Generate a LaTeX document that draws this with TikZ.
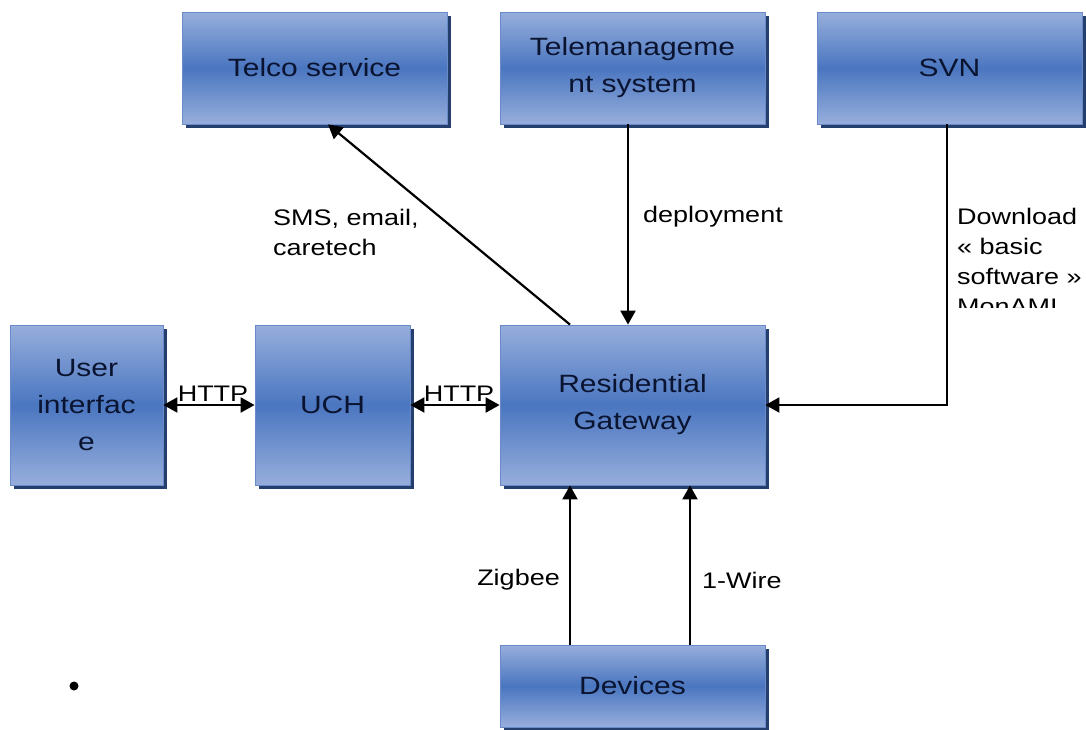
\documentclass[tikz,border=0pt]{standalone}
\usepackage{fontspec}
\setmainfont[FakeStretch=1.2]{Liberation Sans}
\usetikzlibrary{arrows.meta,shadows}

\definecolor{boxlight}{HTML}{97AEDC}
\definecolor{boxmid}{HTML}{4A76C0}
\definecolor{boxedge}{HTML}{6A8BC9}
\definecolor{boxshade}{HTML}{243F6E}
\definecolor{ink}{HTML}{0A1430}

\begin{document}
\begin{tikzpicture}[x=1pt,y=-1pt,
  block/.style={draw=boxedge, line width=0.8pt,
    top color=boxlight, bottom color=boxlight, middle color=boxmid,
    general shadow={fill=boxshade, shadow xshift=3.5pt, shadow yshift=-4pt},
    inner sep=0pt, align=center, text=ink,
    font=\fontsize{25}{37}\selectfont},
  lbl/.style={inner sep=0pt, text=black, align=left,
    font=\fontsize{22.5}{30}\selectfont},
  arr/.style={line width=2.2pt, -{Triangle[length=14pt,width=15pt]}},
  darr/.style={line width=2.2pt,
    {Triangle[length=14pt,width=15pt]}-{Triangle[length=14pt,width=15pt]}},
]
% page
\fill[white] (0,0) rectangle (1086,729);
\useasboundingbox (0,0) rectangle (1086,729);

% top row
\node[block, minimum width=265pt, minimum height=112pt] (telco) at (314.5,68) {Telco service};
\node[block, minimum width=265pt, minimum height=112pt] (tms) at (632.5,68) {Telemanageme\\nt system};
\node[block, minimum width=265pt, minimum height=112pt] (svn) at (949.5,68) {SVN};

% middle row
\node[block, minimum width=153pt, minimum height=160pt] (ui) at (86.5,405) {User\\interfac\\e};
\node[block, minimum width=155pt, minimum height=160pt] (uch) at (332.5,405) {UCH};
\node[block, minimum width=265pt, minimum height=160pt] (rg) at (632.5,405) {Residential\\Gateway};

% bottom row
\node[block, minimum width=265pt, minimum height=82pt] (dev) at (632.5,686) {Devices};

% connectors
\draw[arr] ([xshift=-62.5pt]rg.north) -- ([xshift=13.5pt]telco.south);
\draw[arr] ([xshift=-4.5pt]tms.south) -- ([xshift=-4.5pt]rg.north);
\draw[arr] ([xshift=-2.5pt]svn.south) |- (rg.east);
\draw[darr] (ui.east) -- (uch.west)
  node[lbl, midway, anchor=base, yshift=4pt, xshift=4pt] (http1) {HTTP};
\draw[darr] (uch.east) -- (rg.west)
  node[lbl, midway, anchor=base, yshift=4pt, xshift=4pt] (http2) {HTTP};
\draw[arr] ([xshift=-62.5pt]dev.north) -- ([xshift=-62.5pt]rg.south);
\draw[arr] ([xshift=57.5pt]dev.north) -- ([xshift=57.5pt]rg.south);

% connector labels
\node[lbl, anchor=west] (smslbl) at (273,232) {SMS, email,\\caretech};
\node[lbl, anchor=west] (deplbl) at (643,217) {deployment};
\node[lbl, anchor=east] (ziglbl) at (560,580) {Zigbee};
\node[lbl, anchor=west] (wirelbl) at (702,580) {1-Wire};
\begin{scope}
  \clip (940,190) rectangle (1086,307);
  \node[lbl, anchor=north west] (dllbl) at (957,208) {Download\\« basic\\software »\\MonAMI};
\end{scope}

% list bullet
\node[circle, fill=black, inner sep=0pt, minimum size=9pt] (dot) at (74,686) {};
\end{tikzpicture}
\end{document}
